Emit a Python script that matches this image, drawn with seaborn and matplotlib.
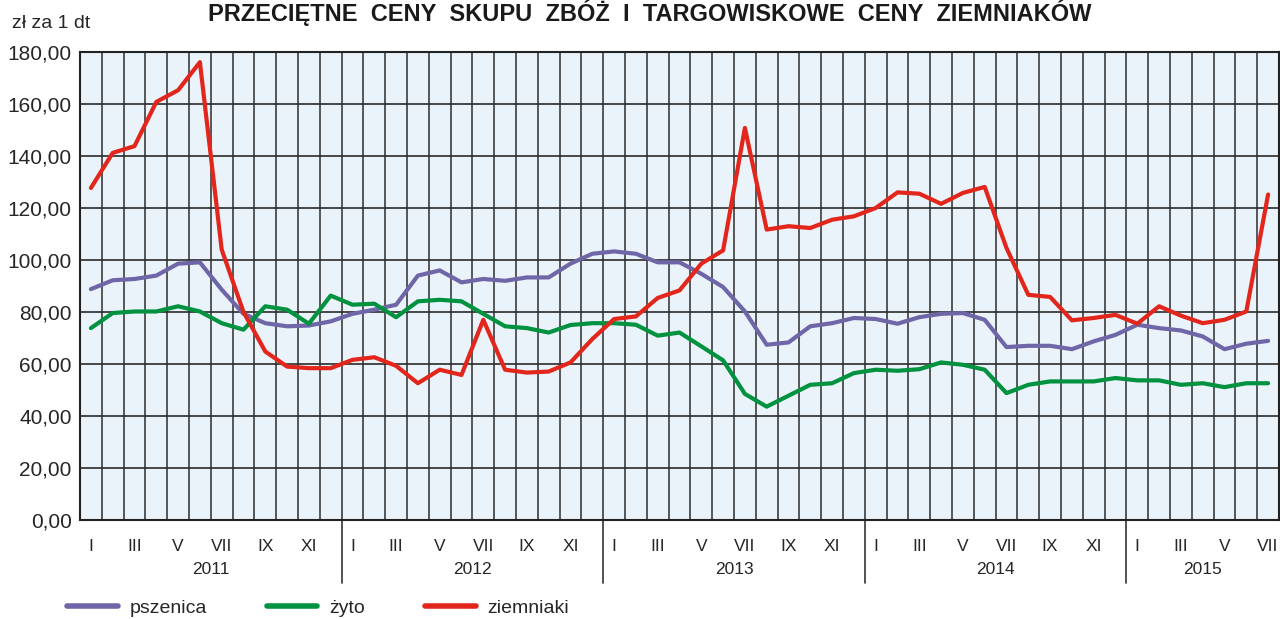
import numpy as np
import pandas as pd
import matplotlib
matplotlib.use("Agg")
import matplotlib.pyplot as plt
import matplotlib.transforms as mtransforms
from matplotlib.lines import Line2D
import seaborn as sns

# dane: miesiące I 2011 - VII 2015, zł za 1 dt
years = ["2011", "2012", "2013", "2014", "2015"]
month_names = ["I", "II", "III", "IV", "V", "VI", "VII", "VIII", "IX", "X", "XI", "XII"]

pszenica = [88.8, 92.2, 92.7, 94.0, 98.6, 99.1, 88.6, 79.3, 75.7, 74.5, 74.8, 76.4,
            79.3, 80.9, 82.8, 94.0, 96.0, 91.4, 92.7, 92.0, 93.3, 93.3, 98.6, 102.4,
            103.3, 102.4, 99.1, 99.1, 94.7, 89.6, 80.2, 67.4, 68.3, 74.5, 75.7, 77.7,
            77.3, 75.5, 78.0, 79.3, 79.6, 77.0, 66.5, 67.0, 67.0, 65.7, 68.7, 71.2,
            75.1, 73.8, 72.9, 70.6, 65.7, 67.8, 68.9]
zyto = [73.8, 79.6, 80.2, 80.2, 82.2, 80.2, 75.7, 73.2, 82.2, 80.9, 75.5, 86.3,
        82.8, 83.2, 78.0, 84.1, 84.7, 84.1, 79.3, 74.5, 73.8, 72.1, 75.0, 75.7,
        75.7, 75.1, 70.9, 72.1, 66.8, 61.4, 48.5, 43.6, 47.8, 52.0, 52.6, 56.5,
        57.8, 57.4, 58.0, 60.6, 59.7, 57.8, 48.8, 52.0, 53.3, 53.3, 53.3, 54.6,
        53.7, 53.7, 52.0, 52.6, 51.1, 52.6, 52.6]
ziemniaki = [127.7, 141.2, 143.8, 160.8, 165.3, 176.1, 104.0, 80.0, 64.8, 59.0, 58.4, 58.4,
             61.6, 62.6, 59.3, 52.6, 57.8, 55.8, 77.0, 57.8, 56.7, 57.1, 60.6, 69.6,
             77.3, 78.3, 85.4, 88.3, 98.6, 103.7, 150.8, 111.7, 113.0, 112.3, 115.5, 116.8,
             120.0, 126.0, 125.5, 121.6, 125.8, 128.1, 104.6, 86.6, 85.8, 76.8, 77.7, 78.9,
             75.5, 82.2, 78.6, 75.7, 77.0, 80.2, 125.2]

series_names = ["pszenica", "żyto", "ziemniaki"]
colors = ["#6F66A8", "#00923F", "#E2261C"]
y_ticks = [0, 20, 40, 60, 80, 100, 120, 140, 160, 180]

n = len(pszenica)
month_labels = [month_names[i % 12] for i in range(n)]

df = pd.DataFrame({
    "miesiac": np.tile(np.arange(n), 3),
    "cena": pszenica + zyto + ziemniaki,
    "seria": np.repeat(series_names, n),
})

sns.set_style("white")
plt.rcParams["font.family"] = ["Liberation Sans", "DejaVu Sans"]

W, H = 1280, 619
fig = plt.figure(figsize=(W / 100, H / 100), dpi=100)
ax = fig.add_axes([80 / W, 1 - 520 / H, 1199 / W, 468 / H])
ax.set_facecolor("#EAF3FA")

sns.lineplot(data=df, x="miesiac", y="cena", hue="seria",
             palette=dict(zip(series_names, colors)), linewidth=3,
             legend=False, ax=ax)

ax.set_xlim(-0.5, n - 0.5)
ax.set_ylim(0, 180)
ax.set_yticks(y_ticks)
ax.set_yticklabels([f"{v:.2f}".replace(".", ",") for v in y_ticks])

odd = [i for i in range(n) if i % 2 == 0]
ax.set_xticks(odd)
ax.set_xticklabels([month_labels[i] for i in odd])
ax.set_xticks(np.arange(0.5, n - 1, 1), minor=True)
ax.tick_params(axis="x", which="major", length=0, pad=14, labelsize=12.5)
ax.tick_params(axis="x", which="minor", length=4, width=1, color="#333333")
ax.tick_params(axis="y", length=4, width=1, color="#333333", labelsize=15, pad=2)
ax.grid(which="minor", axis="x", color="#3c3c3c", linewidth=1.2)
ax.grid(which="major", axis="y", color="#2a2a2a", linewidth=1.2)
ax.grid(which="major", axis="x", visible=False)
ax.set_axisbelow(True)
ax.set_xlabel("")
ax.set_ylabel("")
for s in ax.spines.values():
    s.set_color("#222222")
    s.set_linewidth(1.5)

# separatory lat i podpisy lat
trans = mtransforms.blended_transform_factory(ax.transData, ax.transAxes)
for k, year in enumerate(years):
    start = k * 12 - 0.5
    end = min(start + 12, n - 0.5)
    if k > 0:
        ax.plot([start, start], [0, -63 / 468], transform=trans, clip_on=False,
                color="#333333", linewidth=1.2)
    ax.text((start + end) / 2, -50 / 468, year, transform=trans,
            ha="center", va="center", fontsize=12.5)

fig.text(650 / W, 1 - 21 / H,
         "PRZECIĘTNE  CENY  SKUPU  ZBÓŻ  I  TARGOWISKOWE  CENY  ZIEMNIAKÓW",
         ha="center", va="baseline", fontsize=17, fontweight="bold", color="#1a1a1a")
fig.text(12 / W, 1 - 28 / H, "zł za 1 dt", ha="left", va="baseline", fontsize=14)

handles = [Line2D([0], [0], color=c, linewidth=4) for c in colors]
fig.legend(handles, series_names, loc="center left", bbox_to_anchor=(67 / W, 1 - 608 / H),
           ncol=3, frameon=False, fontsize=14, handlelength=2.6, handletextpad=0.6,
           columnspacing=3.1, borderpad=0, borderaxespad=0)

fig.savefig("out.png", dpi=100)
